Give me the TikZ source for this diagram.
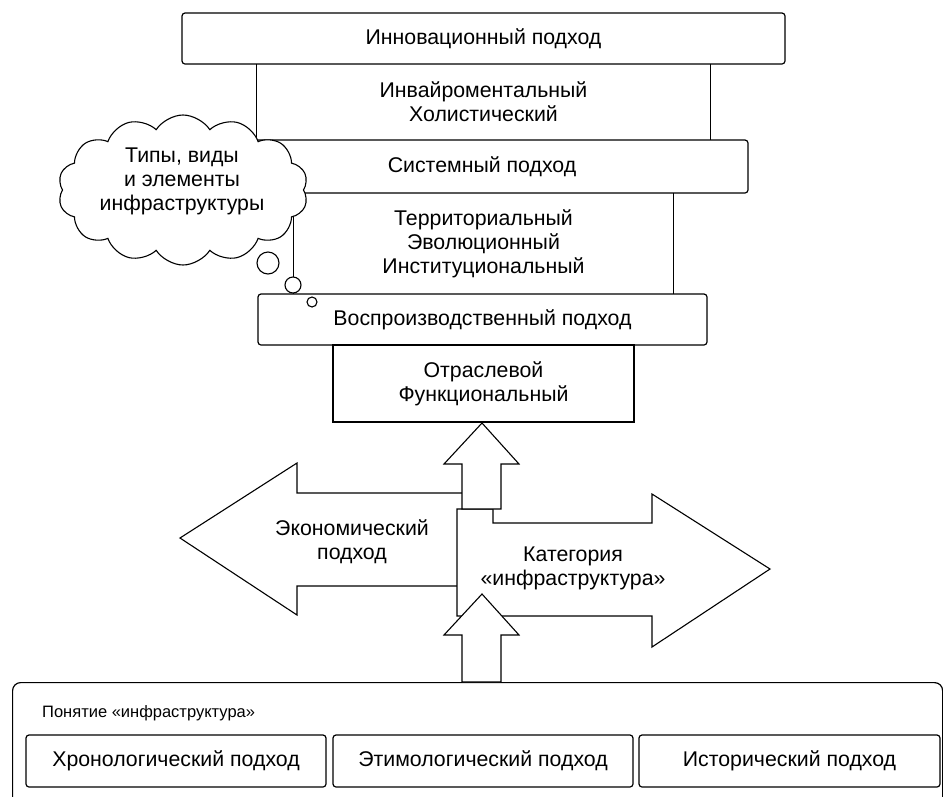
\documentclass[tikz,border=0pt]{standalone}
\usepackage{fontspec}
\setmainfont{Liberation Sans}
\usetikzlibrary{shapes.symbols}
\begin{document}
\begin{tikzpicture}[x=1pt,y=-1pt,
  every node/.style={font=\fontsize{21.3}{23.8}\selectfont, align=center, inner sep=0pt},
  box/.style={draw, line width=1.2pt, fill=white, rounded corners=3pt},
  ln/.style={line width=1.1pt},
  blk/.style={draw, line width=1.1pt, fill=white, line join=miter},
  bubble/.style={circle, draw, fill=white, line width=1.1pt, inner sep=0pt}]
\useasboundingbox (0,0) rectangle (943,796);
\clip (0,0) rectangle (943,796);

% stacked approaches
\node[box, minimum width=603pt, minimum height=51pt] (innov) at (483.5,38.5) {Инновационный подход};
\node[minimum width=453pt, minimum height=76pt] (env) at (483.5,102) {Инвайроментальный\\Холистический};
\draw[ln] (env.north west) -- (env.south west);
\draw[ln] (env.north east) -- (env.south east);
\node[box, minimum width=532pt, minimum height=53pt] (sys) at (482,166.5) {Системный подход};
\node[minimum width=379pt, minimum height=101pt] (terr) at (483.5,243.5) {Территориальный\\Эволюционный\\Институциональный};
\draw[ln] (terr.north west) -- (terr.south west);
\draw[ln] (terr.north east) -- (terr.south east);
\node[box, minimum width=449pt, minimum height=51pt] (repro) at (482.5,319.5) {Воспроизводственный подход};
\node[draw, line width=1.1pt, fill=white, minimum width=301pt, minimum height=77pt] (branch) at (483.5,383.5) {Отраслевой\\Функциональный};

% thought cloud
\node[cloud, draw, fill=white, line width=1.1pt, cloud puffs=14, cloud puff arc=115, cloud ignores aspect,
      minimum width=250pt, minimum height=150pt] (cloud) at (183,190) {};
\node (cloudtext) at (182,181.5) {Типы, виды\\и элементы\\инфраструктуры};
\node[bubble, minimum size=22pt] (b1) at (268,263) {};
\node[bubble, minimum size=16pt] (b2) at (293,285) {};
\node[bubble, minimum size=10pt] (b3) at (312,302) {};

% block arrows
\draw[blk] (463,493) -- (297,493) -- (297,463) -- (180,538) -- (297,615) -- (297,586) -- (463,586) -- cycle;
\draw[blk] (457,509) -- (493,509) -- (493,523) -- (652,523) -- (652,494) -- (770,569) -- (652,647) -- (652,616) -- (457,616) -- cycle;
\draw[blk] (482,423) -- (519,464) -- (501,464) -- (501,509) -- (462,509) -- (462,464) -- (444,464) -- cycle;
\node (econ) at (352,541.5) {Экономический\\подход};
\node (cat) at (573,568.5) {Категория\\«инфраструктура»};

% concept box
\node[box, rounded corners=8pt, anchor=north west, minimum width=930pt, minimum height=125pt] (concept) at (12,682) {};
\draw[blk] (482,594) -- (519,635) -- (501,635) -- (501,682) -- (462,682) -- (462,635) -- (444,635) -- cycle;
\node[font=\fontsize{16.5}{20}\selectfont, anchor=west] (ctitle) at (42,713) {Понятие «инфраструктура»};
\node[box, minimum width=300pt, minimum height=52pt] (chrono) at (176,761) {Хронологический подход};
\node[box, minimum width=300pt, minimum height=52pt] (etym) at (483,761) {Этимологический подход};
\node[box, minimum width=301pt, minimum height=52pt] (hist) at (789.5,761) {Исторический подход};
\end{tikzpicture}
\end{document}
